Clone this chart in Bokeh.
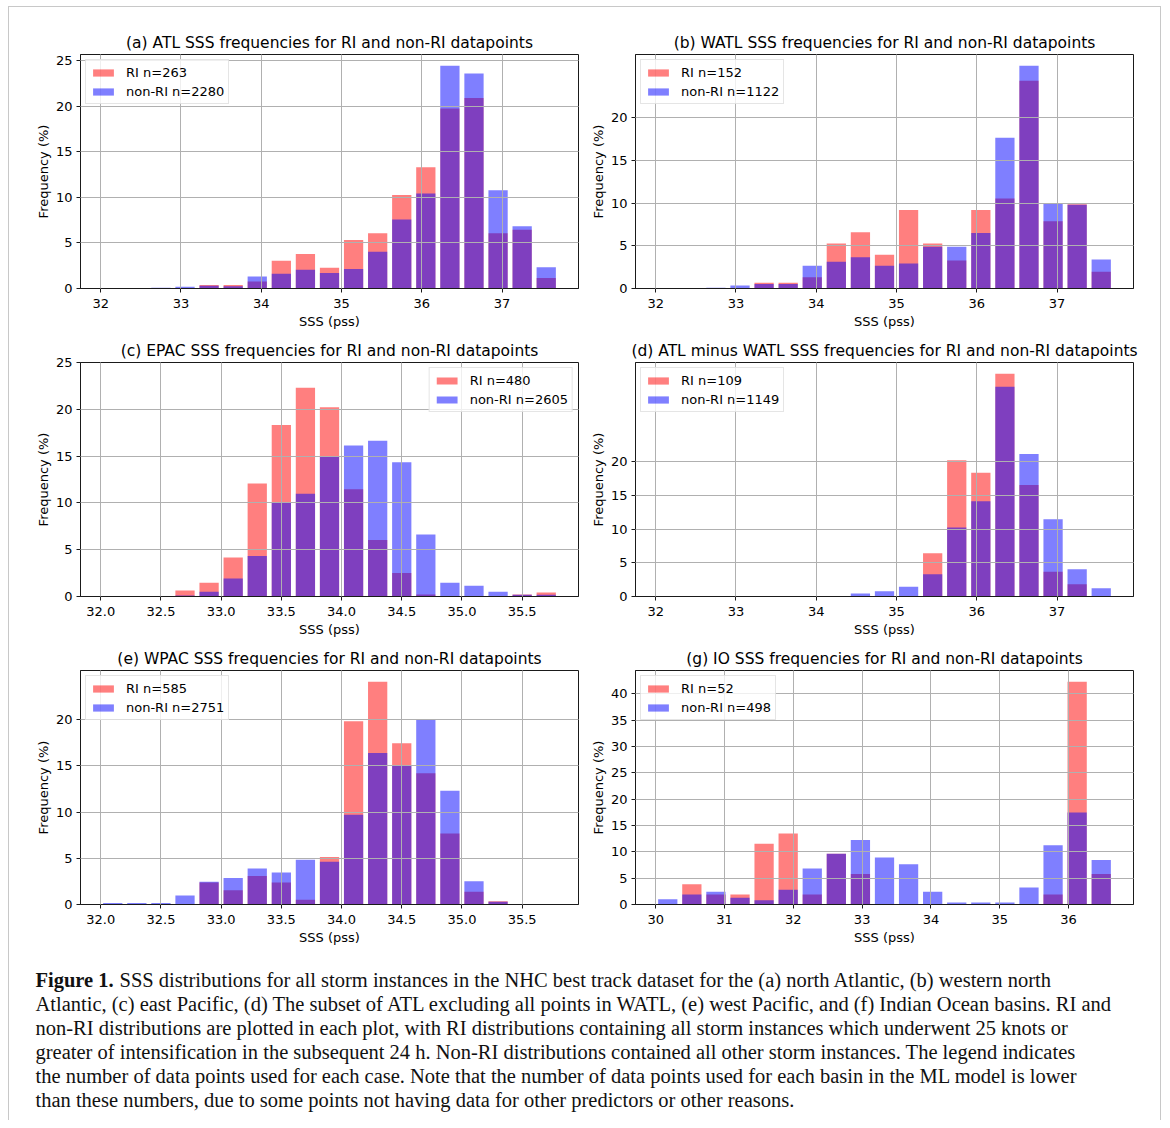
import numpy as np
from bokeh.plotting import figure
from bokeh.models import Range1d, FixedTicker, Legend, LegendItem, Label, PrintfTickFormatter
from bokeh.layouts import column, row
from bokeh.embed import file_html
from bokeh.resources import INLINE

# ---------------- data (percent frequency per bin) ----------------
# bins: (first edge, last edge, number of bins)
atl_bins = (32.0, 37.7, 19)
epac_bins = (32.0, 35.8, 19)
io_bins = (30.0, 36.65, 19)

atl_ri = [0, 0, 0, 0, 0.38, 0.38, 0.76, 3.04, 3.80, 2.28, 5.32, 6.08, 10.27, 13.31, 19.77, 20.91, 6.08, 6.46, 1.14]
atl_non_ri = [0, 0, 0.09, 0.18, 0.31, 0.26, 1.32, 1.62, 2.06, 1.71, 2.15, 4.04, 7.59, 10.44, 24.47, 23.60, 10.79, 6.84, 2.32]

watl_ri = [0, 0, 0, 0, 0.66, 0.66, 1.32, 5.26, 6.58, 3.95, 9.21, 5.26, 3.29, 9.21, 10.53, 24.34, 7.89, 9.87, 1.97]
watl_non_ri = [0, 0, 0.09, 0.36, 0.53, 0.53, 2.67, 3.12, 3.65, 2.67, 2.94, 4.90, 4.90, 6.51, 17.65, 26.11, 9.98, 9.80, 3.39]

epac_ri = [0, 0, 0, 0.63, 1.46, 4.17, 12.08, 18.33, 22.29, 20.21, 11.46, 6.04, 2.50, 0.21, 0, 0, 0, 0.21, 0.42]
epac_non_ri = [0, 0, 0, 0.10, 0.50, 1.92, 4.34, 10.00, 10.97, 14.99, 16.13, 16.63, 14.35, 6.62, 1.46, 1.14, 0.50, 0.19, 0.19]

atlw_ri = [0, 0, 0, 0, 0, 0, 0, 0, 0, 0, 0, 6.42, 20.18, 18.35, 33.03, 16.51, 3.67, 1.83, 0]
atlw_non_ri = [0, 0, 0, 0, 0.09, 0, 0, 0.09, 0.45, 0.78, 1.43, 3.29, 10.22, 14.10, 31.10, 21.13, 11.45, 4.03, 1.22]

wpac_ri = [0, 0, 0, 0, 2.39, 1.54, 3.08, 2.39, 0.51, 5.13, 19.83, 24.10, 17.44, 14.19, 7.69, 1.37, 0.34, 0, 0]
wpac_non_ri = [0.15, 0.15, 0.15, 0.98, 2.45, 2.87, 3.89, 3.45, 4.84, 4.62, 9.71, 16.39, 14.98, 19.96, 12.31, 2.51, 0.29, 0, 0]

io_ri = [0, 3.85, 1.92, 1.92, 11.54, 13.46, 1.92, 9.62, 5.77, 0, 0, 0, 0, 0, 0, 0, 1.92, 42.31, 5.77]
io_non_ri = [1.00, 1.90, 2.41, 1.30, 0.80, 2.81, 6.83, 9.64, 12.25, 8.94, 7.63, 2.41, 0.40, 0.40, 0.40, 3.21, 11.24, 17.47, 8.43]

titles = [
    "(a) ATL SSS frequencies for RI and non-RI datapoints",
    "(b) WATL SSS frequencies for RI and non-RI datapoints",
    "(c) EPAC SSS frequencies for RI and non-RI datapoints",
    "(d) ATL minus WATL SSS frequencies for RI and non-RI datapoints",
    "(e) WPAC SSS frequencies for RI and non-RI datapoints",
    "(g) IO SSS frequencies for RI and non-RI datapoints",
]
ri_counts = [263, 152, 480, 109, 585, 52]
non_ri_counts = [2280, 1122, 2605, 1149, 2751, 498]

xticks_int = [32, 33, 34, 35, 36, 37]
xticks_half = [32.0, 32.5, 33.0, 33.5, 34.0, 34.5, 35.0, 35.5]
xticks_io = [30, 31, 32, 33, 34, 35, 36]
yticks_25 = [0, 5, 10, 15, 20, 25]
yticks_20 = [0, 5, 10, 15, 20]
yticks_40 = [0, 5, 10, 15, 20, 25, 30, 35, 40]

caption_lines = [
    "SSS distributions for all storm instances in the NHC best track dataset for the (a) north Atlantic, (b) western north",
    "Atlantic, (c) east Pacific, (d) The subset of ATL excluding all points in WATL, (e) west Pacific, and (f) Indian Ocean basins. RI and",
    "non-RI distributions are plotted in each plot, with RI distributions containing all storm instances which underwent 25 knots or",
    "greater of intensification in the subsequent 24 h. Non-RI distributions contained all other storm instances. The legend indicates",
    "the number of data points used for each case. Note that the number of data points used for each basin in the ML model is lower",
    "than these numbers, due to some points not having data for other predictors or other reasons.",
]

# ---------------- styling ----------------
FONT = "DejaVu Sans"
FRAME_W, FRAME_H = 498, 234


def panel(title, bins, ri, non_ri, n_ri, n_non, xticks, yticks, y_end, legend_loc,
          left_col, first_row, xfmt=None):
    start, stop, nb = bins
    edges = np.linspace(start, stop, nb + 1)
    bw = edges[1] - edges[0]
    centers = (edges[:-1] + edges[1:]) / 2.0
    barw = 0.8 * bw
    lo = centers[0] - barw / 2
    hi = centers[-1] + barw / 2
    pad = 0.05 * (hi - lo)
    top_all = max(max(ri), max(non_ri))
    if y_end is None:
        y_end = top_all * 1.05

    if left_col:
        bl, br = 71, 1
    else:
        bl, br = 56, 27
    bt = 47 if first_row else 30
    bb = 44
    p = figure(width=bl + FRAME_W + br, height=bt + FRAME_H + bb,
               x_range=Range1d(lo - pad, hi + pad), y_range=Range1d(0, y_end),
               output_backend="svg", toolbar_location=None,
               min_border_left=bl, min_border_right=br,
               min_border_top=bt, min_border_bottom=bb)
    p.background_fill_color = "white"
    p.border_fill_color = "white"
    p.outline_line_color = "#1a1a1a"
    p.outline_line_width = 1

    p.title.text = title
    p.title.align = "center"
    p.title.text_font = FONT
    p.title.text_font_style = "normal"
    p.title.text_font_size = "15.5px"
    p.title.text_color = "black"
    p.title.standoff = 6

    r1 = p.vbar(x=centers, top=ri, width=barw, bottom=0,
                fill_color="#ff0000", fill_alpha=0.5, line_color=None)
    r2 = p.vbar(x=centers, top=non_ri, width=barw, bottom=0,
                fill_color="#0000ff", fill_alpha=0.5, line_color=None)

    p.xaxis.ticker = FixedTicker(ticks=xticks)
    p.yaxis.ticker = FixedTicker(ticks=yticks)
    if xfmt:
        p.xaxis.formatter = PrintfTickFormatter(format=xfmt)
    p.xaxis.axis_label = "SSS (pss)"
    p.yaxis.axis_label = "Frequency (%)"
    for ax in (p.xaxis[0], p.yaxis[0]):
        ax.axis_label_text_font = FONT
        ax.axis_label_text_font_style = "normal"
        ax.axis_label_text_font_size = "13px"
        ax.axis_label_text_color = "black"
        ax.major_label_text_font = FONT
        ax.major_label_text_font_size = "13px"
        ax.major_label_text_color = "black"
        ax.axis_line_color = "#1a1a1a"
        ax.major_tick_line_color = "#1a1a1a"
        ax.major_tick_out = 4
        ax.major_tick_in = 0
        ax.minor_tick_line_color = None
    p.xaxis.major_label_standoff = 6
    p.xaxis.axis_label_standoff = 3
    p.yaxis.major_label_standoff = 4
    p.yaxis.axis_label_standoff = 2

    for g in (p.xgrid[0], p.ygrid[0]):
        g.grid_line_color = "#b0b0b0"
        g.grid_line_width = 1
        g.level = "guide"

    legend = Legend(items=[LegendItem(label=f"RI n={n_ri}", renderers=[r1]),
                           LegendItem(label=f"non-RI n={n_non}", renderers=[r2])],
                    location=legend_loc)
    legend.label_text_font = FONT
    legend.label_text_font_size = "13px"
    legend.label_text_color = "black"
    legend.glyph_width = 26
    legend.glyph_height = 9
    legend.label_height = 16
    legend.label_standoff = 10
    legend.spacing = 3
    legend.padding = 4
    legend.margin = 5
    legend.border_line_color = "#cccccc"
    legend.border_line_width = 1
    legend.background_fill_color = "white"
    legend.background_fill_alpha = 0.8
    p.add_layout(legend)
    return p


pa = panel(titles[0], atl_bins, atl_ri, atl_non_ri, ri_counts[0], non_ri_counts[0],
           xticks_int, yticks_25, None, "top_left", True, True)
pb = panel(titles[1], atl_bins, watl_ri, watl_non_ri, ri_counts[1], non_ri_counts[1],
           xticks_int, yticks_20, None, "top_left", False, True)
pc = panel(titles[2], epac_bins, epac_ri, epac_non_ri, ri_counts[2], non_ri_counts[2],
           xticks_half, yticks_25, 25, "top_right", True, False, xfmt="%.1f")
pd = panel(titles[3], atl_bins, atlw_ri, atlw_non_ri, ri_counts[3], non_ri_counts[3],
           xticks_int, yticks_20, None, "top_left", False, False)
pe = panel(titles[4], epac_bins, wpac_ri, wpac_non_ri, ri_counts[4], non_ri_counts[4],
           xticks_half, yticks_20, None, "top_left", True, False, xfmt="%.1f")
pg = panel(titles[5], io_bins, io_ri, io_non_ri, ri_counts[5], non_ri_counts[5],
           xticks_io, yticks_40, None, "top_left", False, False)

# ---------------- caption ----------------
CAP_W, CAP_H = 1151, 172
cap = figure(width=CAP_W, height=CAP_H, x_range=Range1d(0, CAP_W), y_range=Range1d(CAP_H, 0),
             output_backend="svg", toolbar_location=None,
             x_axis_location=None, y_axis_location=None,
             min_border_left=0, min_border_right=0, min_border_top=0, min_border_bottom=0)
cap.grid.visible = False
cap.outline_line_color = None
cap.background_fill_color = "white"
cap.border_fill_color = "white"

SERIF = "Liberation Serif"
CAP_SIZE = "20.5px"
Y0 = 31
cap.add_layout(Label(x=26, y=Y0, text="Figure 1.", text_font=SERIF,
                     text_font_style="bold", text_font_size=CAP_SIZE,
                     text_baseline="alphabetic", text_color="#111111"))
for i, line in enumerate(caption_lines):
    x0 = 110 if i == 0 else 26
    cap.add_layout(Label(x=x0, y=Y0 + 24 * i, text=line, text_font=SERIF,
                         text_font_size=CAP_SIZE, text_baseline="alphabetic",
                         text_color="#111111"))

layout = column(row(pa, pb), row(pc, pd), row(pe, pg), cap,
                margin=(6, 0, 0, 8),
                styles={"border-left": "1px solid #c8c8c8",
                        "border-right": "1px solid #c8c8c8",
                        "border-top": "1px solid #c8c8c8"})

open("out.html", "w").write(file_html(layout, INLINE))
